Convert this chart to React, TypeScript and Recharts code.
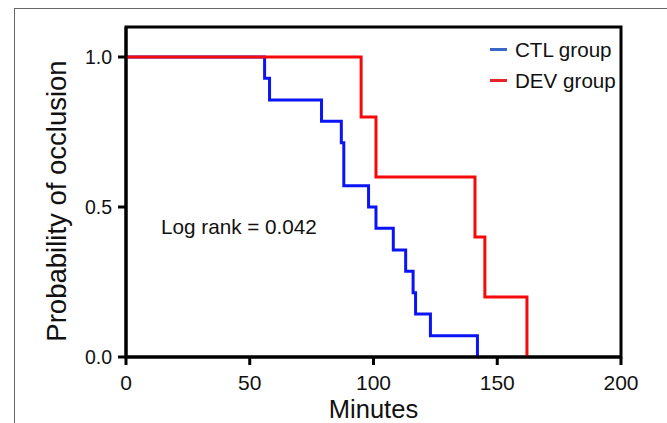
import React from 'react'
import {
  LineChart,
  Line,
  XAxis,
  YAxis,
  ReferenceArea,
  Label,
} from 'recharts'

// Kaplan-Meier steps
const ctlMinutes = [0, 56, 58, 79, 87, 88, 98, 101, 108, 113, 116, 117, 123, 142]
const ctlSurvival = [1, 0.929, 0.857, 0.786, 0.714, 0.571, 0.5, 0.429, 0.357, 0.286, 0.214, 0.143, 0.071, 0]

const devMinutes = [0, 95, 101, 141, 145, 162]
const devSurvival = [1, 0.8, 0.6, 0.4, 0.2, 0]

const xTicks = [0, 50, 100, 150, 200]
const yTicks = [0, 0.5, 1]

const seriesNames = ['CTL group', 'DEV group']
const seriesColors = ['#0a14f5', '#f50a0a']
const legendColors = ['#3b67c9', '#e8232b']

const ctlData = ctlMinutes.map((x, i) => ({ x, y: ctlSurvival[i] }))
const devData = devMinutes.map((x, i) => ({ x, y: devSurvival[i] }))

const FONT = '"Liberation Sans", Arial, sans-serif'

const YTitle = (props: any) => {
  const { x, y, height } = props.viewBox
  const cx = x + 26
  const cy = y + height / 2 + 9
  return (
    <text
      x={cx}
      y={cy}
      transform={`rotate(-90, ${cx}, ${cy})`}
      textAnchor="middle"
      dominantBaseline="central"
      fontFamily={FONT}
      fontSize={27.5}
      fill="#111"
    >
      Probability of occlusion
    </text>
  )
}

export default function App() {
  return (
    <div style={{ position: 'absolute', left: 0, top: 0, width: 667, height: 423, background: '#fff', overflow: 'hidden' }}>
      <div style={{ position: 'absolute', left: 14, top: 8, right: -2, bottom: -2, borderLeft: '1.5px solid #666', borderTop: '1.5px solid #666' }} />
      <LineChart width={667} height={423} margin={{ top: 27, right: 46, bottom: 0, left: 30 }}>
        <XAxis
          type="number"
          dataKey="x"
          domain={[0, 200]}
          ticks={xTicks}
          height={66}
          stroke="#000"
          strokeWidth={3}
          tickSize={8}
          tickMargin={10}
          tick={{ fontSize: 21, fill: '#111', fontFamily: FONT }}
          allowDataOverflow
        >
          <Label value="Minutes" position="insideBottom" offset={5} style={{ fontSize: 25.5, fill: '#111', fontFamily: FONT }} />
        </XAxis>
        <YAxis
          type="number"
          domain={[0, 1.1]}
          ticks={yTicks}
          width={96}
          stroke="#000"
          strokeWidth={3}
          tickSize={8}
          tickMargin={6}
          tickFormatter={(v: number) => v.toFixed(1)}
          tick={{ fontSize: 19.5, fill: '#111', fontFamily: FONT }}
          allowDataOverflow
        >
          <Label content={YTitle} />
        </YAxis>
        <ReferenceArea x1={0} x2={200} y1={0} y2={1.1} fill="none" stroke="#000" strokeWidth={3} />
        <Line
          data={ctlData}
          dataKey="y"
          name={seriesNames[0]}
          type="stepAfter"
          stroke={seriesColors[0]}
          strokeWidth={3}
          dot={false}
          isAnimationActive={false}
        />
        <Line
          data={devData}
          dataKey="y"
          name={seriesNames[1]}
          type="stepAfter"
          stroke={seriesColors[1]}
          strokeWidth={3}
          dot={false}
          isAnimationActive={false}
        />
      </LineChart>
      <div style={{ position: 'absolute', top: 34, left: 490, fontFamily: FONT, fontSize: 20.6, color: '#111' }}>
        {seriesNames.map((name, i) => (
          <div key={name} style={{ display: 'flex', alignItems: 'center', height: 31 }}>
            <span style={{ display: 'inline-block', width: 17, height: 3, background: legendColors[i], marginRight: 8 }} />
            <span>{name}</span>
          </div>
        ))}
      </div>
      <div style={{ position: 'absolute', left: 161, top: 216, fontFamily: FONT, fontSize: 20.7, lineHeight: '22px', color: '#111' }}>
        Log rank = 0.042
      </div>
    </div>
  )
}
